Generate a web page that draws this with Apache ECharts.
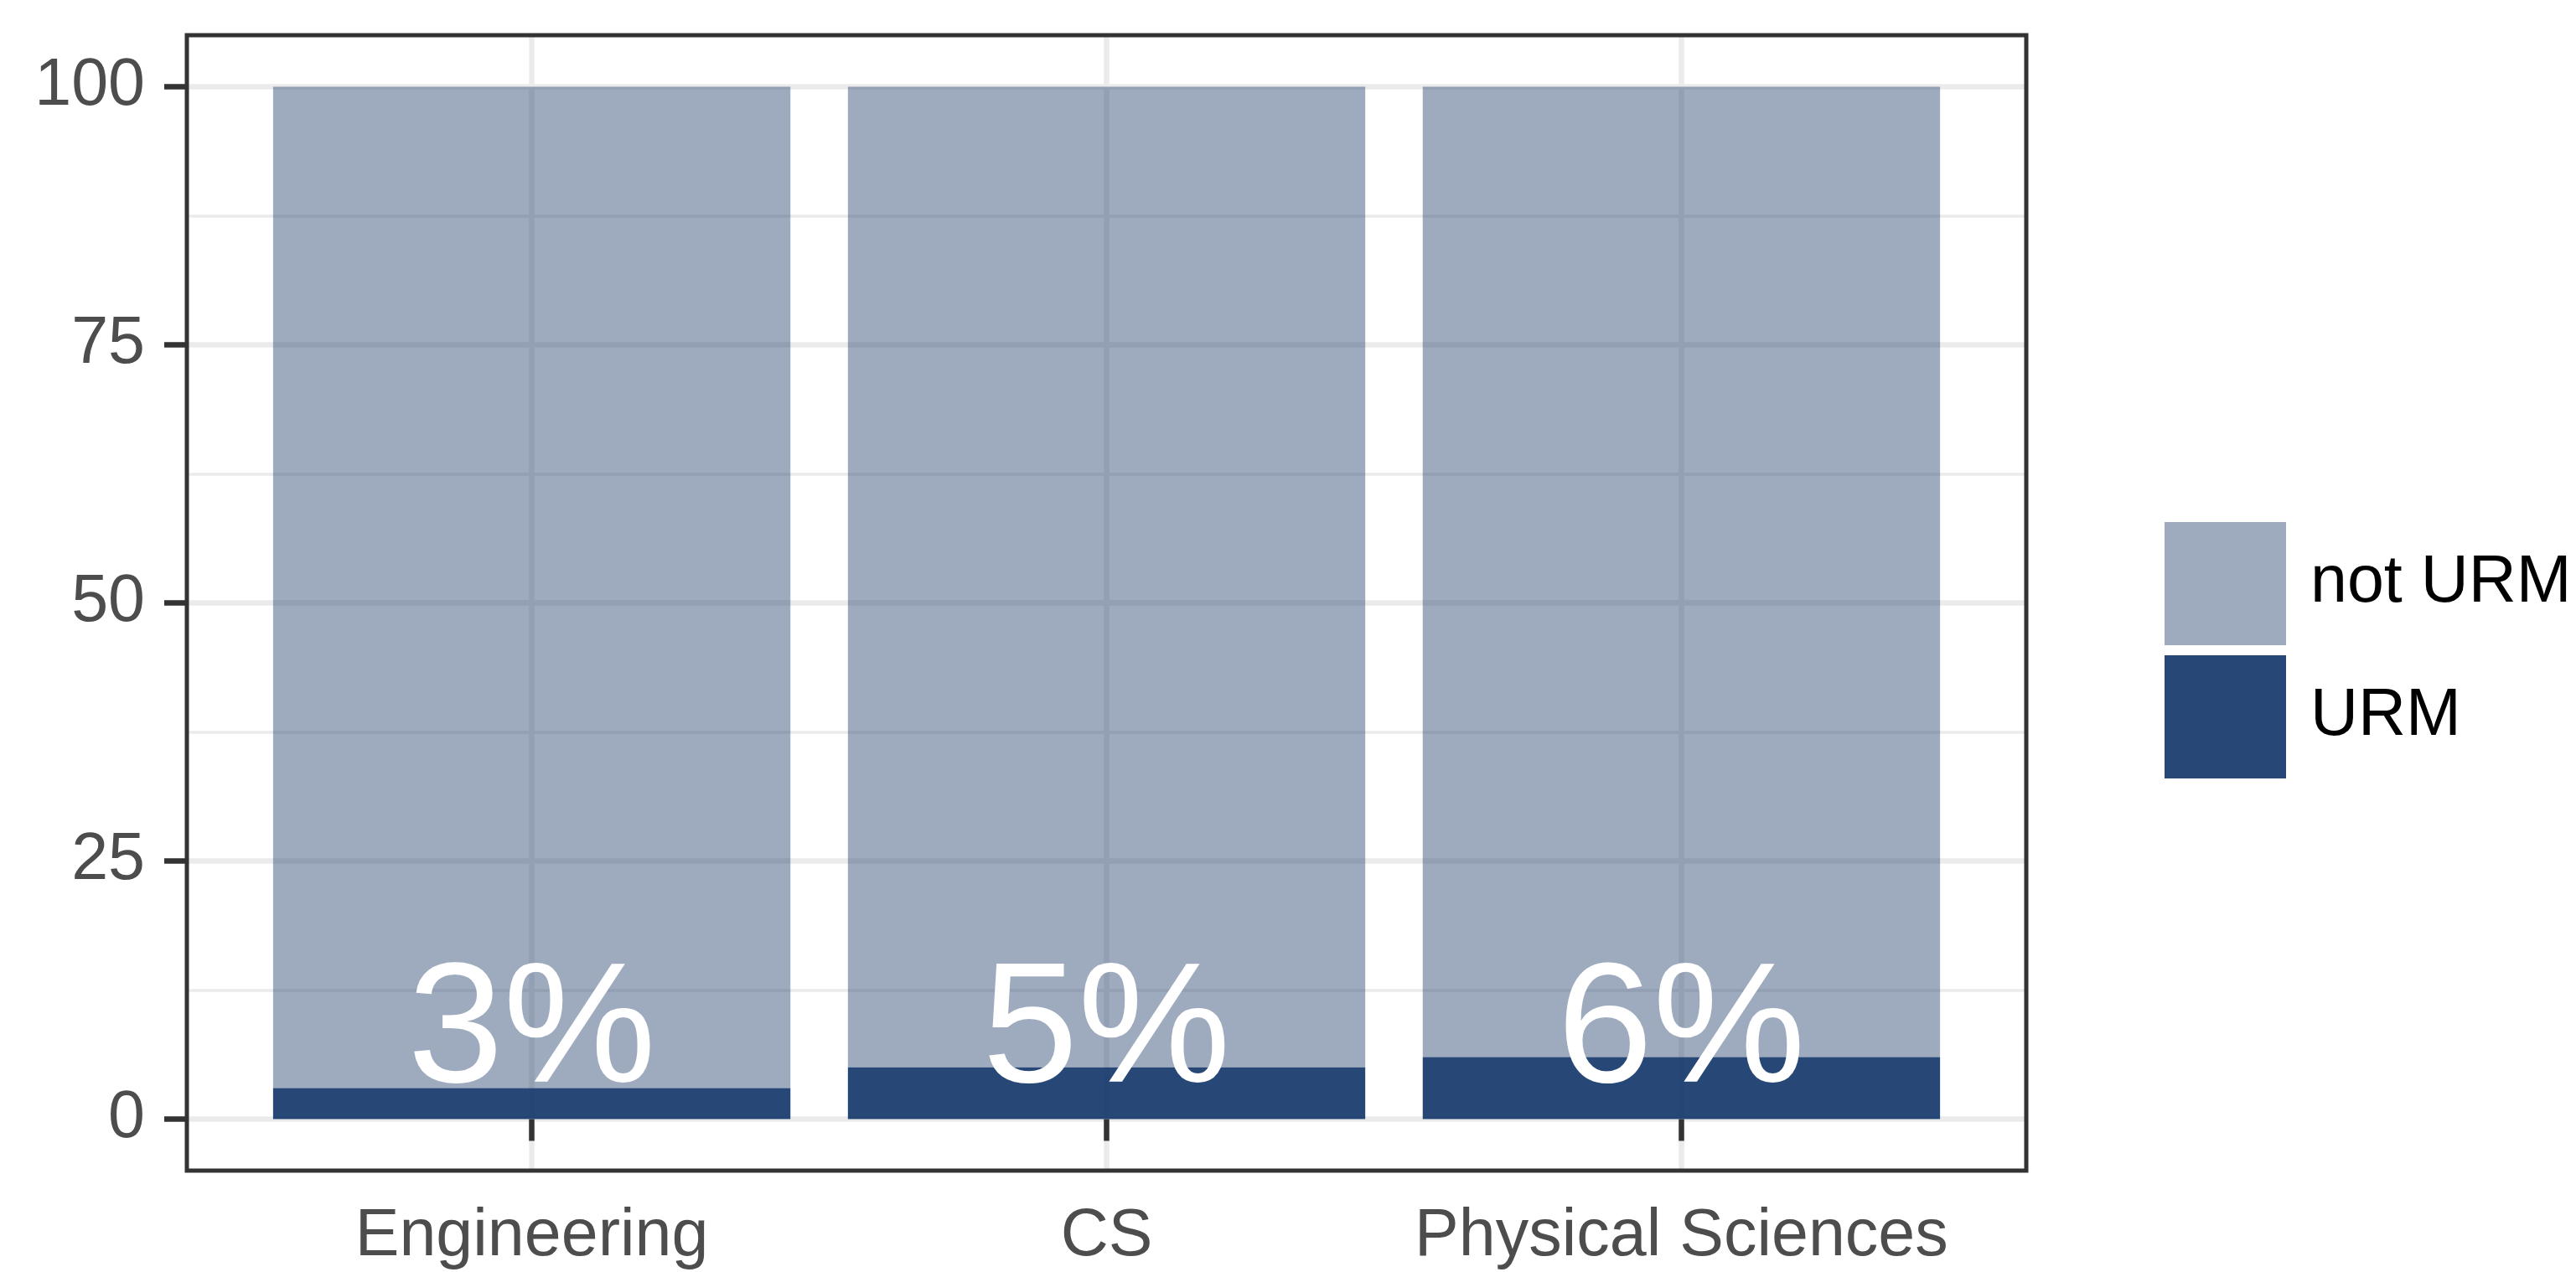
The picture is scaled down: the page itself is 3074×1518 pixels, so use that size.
<!DOCTYPE html>
<html>
<head>
<meta charset="utf-8">
<title>URM share by field</title>
<script src="https://cdn.jsdelivr.net/npm/echarts@6/dist/echarts.min.js"></script>
<style>
  html, body { margin: 0; padding: 0; background: #ffffff; }
  #chart { width: 3074px; height: 1518px; }
</style>
</head>
<body>
<div id="chart"></div>
<script>
// Fields and the share of URM vs. not-URM students (percent)
const categories = ['Engineering', 'CS', 'Physical Sciences'];
const urm = [3, 5, 6];
const notUrm = [97, 95, 94];
const yTicks = [0, 25, 50, 75, 100];

const FONT = "'Liberation Sans', Arial, Helvetica, sans-serif";
const URM_COLOR = 'rgba(16, 52, 103, 0.9)';
const NOT_URM_COLOR = 'rgba(30, 60, 105, 0.43)';
const GRID_LINE = '#ebebeb';
const DARK = '#333333';
const AXIS_TEXT = '#4d4d4d';

// Panel geometry (pixels) with a 5% expansion on y and 0.6 category on x
const panel = { left: 223, top: 42, width: 2195, height: 1355 };
const yMin = yTicks[0], yMax = yTicks[yTicks.length - 1];
const yPad = (yMax - yMin) * 0.05;
const unit = panel.height / (yMax - yMin + 2 * yPad);
const band = panel.width / (categories.length + 0.2);

const chart = echarts.init(document.getElementById('chart'), null, { renderer: 'canvas' });

chart.setOption({
  backgroundColor: '#ffffff',
  animation: false,
  textStyle: { fontFamily: FONT },
  grid: [
    // 0: panel frame
    { left: panel.left, top: panel.top, width: panel.width, height: panel.height,
      show: true, borderColor: DARK, borderWidth: 5, backgroundColor: 'transparent', z: 5 },
    // 1: value range 0..100 (horizontal grid lines and y labels)
    { left: panel.left, top: panel.top + yPad * unit, width: panel.width,
      height: (yMax - yMin) * unit },
    // 2: bars, spanning the categories' bands
    { left: panel.left + 0.1 * band, top: panel.top, width: categories.length * band,
      height: panel.height }
  ],
  xAxis: [
    { gridIndex: 0, type: 'value', show: false, min: 0, max: 1 },
    { gridIndex: 1, type: 'value', show: false, min: 0, max: 1 },
    {
      gridIndex: 2, type: 'category', data: categories, boundaryGap: true,
      axisLine: { show: false },
      axisTick: { show: true, interval: 0, alignWithLabel: true, length: 26,
                  lineStyle: { color: DARK, width: 6.5 } },
      splitLine: { show: true, interval: 0, alignWithLabel: true,
                   lineStyle: { color: GRID_LINE, width: 6.5 } },
      axisLabel: { interval: 0, color: AXIS_TEXT, fontSize: 79, fontFamily: FONT, margin: 40 }
    }
  ],
  yAxis: [
    { gridIndex: 0, type: 'value', show: false, min: 0, max: 1 },
    {
      gridIndex: 1, type: 'value', min: yMin, max: yMax, interval: 25,
      axisLine: { show: false },
      axisTick: { show: true, length: 27, lineStyle: { color: DARK, width: 6.5 } },
      axisLabel: { color: AXIS_TEXT, fontSize: 79, fontFamily: FONT, margin: 50 },
      splitLine: { show: true, lineStyle: { color: GRID_LINE, width: 6.5 } },
      minorTick: { show: false, splitNumber: 2 },
      minorSplitLine: { show: true, lineStyle: { color: GRID_LINE, width: 3.5 } }
    },
    { gridIndex: 2, type: 'value', show: false, min: yMin - yPad, max: yMax + yPad }
  ],
  legend: {
    orient: 'vertical',
    left: 2583, top: 623,
    padding: 0,
    itemWidth: 145, itemHeight: 147, itemGap: 12,
    icon: 'rect',
    data: ['not URM', 'URM'],
    textStyle: { color: '#000000', fontSize: 79, fontFamily: FONT, padding: [0, 0, 0, 24] }
  },
  series: [
    {
      name: 'URM', type: 'bar', stack: 'share',
      xAxisIndex: 2, yAxisIndex: 2,
      barCategoryGap: '10%',
      data: urm,
      z: 3,
      itemStyle: { color: URM_COLOR },
      label: {
        show: true, position: 'insideBottom', distance: -2,
        formatter: '{c}%', color: '#ffffff', fontSize: 205, fontFamily: FONT
      }
    },
    {
      name: 'not URM', type: 'bar', stack: 'share',
      xAxisIndex: 2, yAxisIndex: 2,
      barCategoryGap: '10%',
      data: notUrm,
      itemStyle: { color: NOT_URM_COLOR }
    }
  ]
});
</script>
</body>
</html>
